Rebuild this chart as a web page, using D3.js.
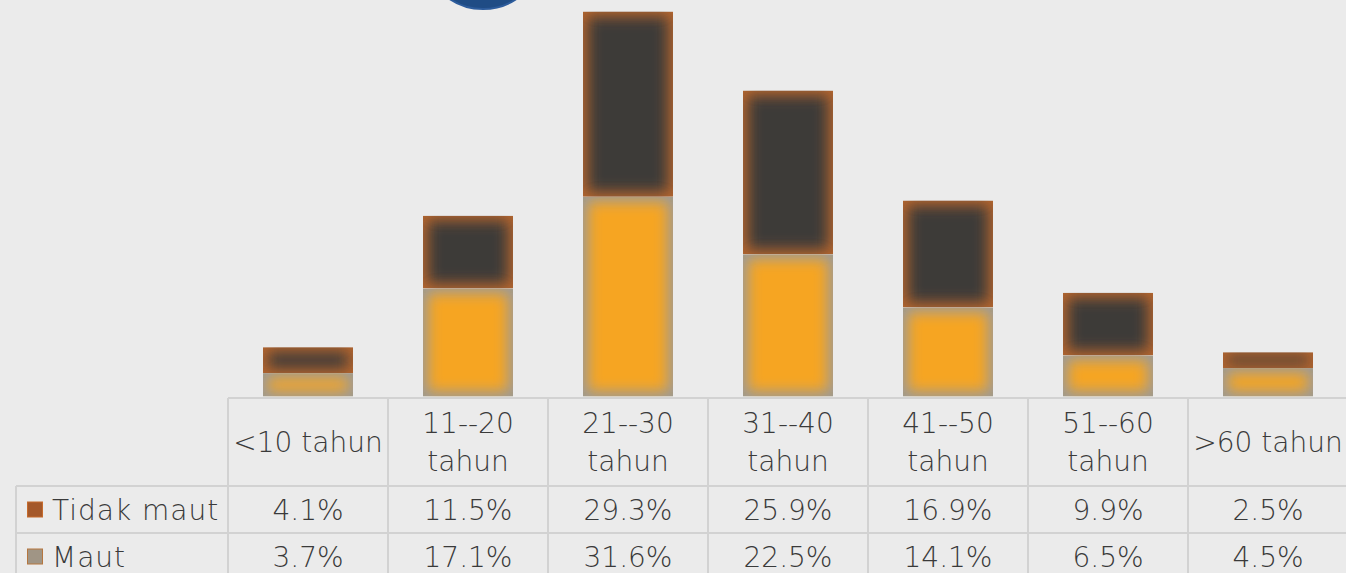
<!DOCTYPE html>
<html lang="id">
<head>
    <meta charset="UTF-8">
    <script src="https://cdn.jsdelivr.net/npm/d3@7"></script>
    <title>Korban menurut umur</title>
    <style>
        body {
            margin: 0;
            background: #ebebeb;
            overflow: hidden;
        }
        text {
            font-family: 'DejaVu Sans', sans-serif;
            font-weight: 200;
            fill: #3a3a3a;
        }
    </style>
</head>
<body>
<div class="fig"></div>

<script>
    // Data
    const categories = ["<10 tahun", "11--20 tahun", "21--30 tahun", "31--40 tahun", "41--50 tahun", "51--60 tahun", ">60 tahun"];
    const headerLines = [["<10 tahun"], ["11--20", "tahun"], ["21--30", "tahun"], ["31--40", "tahun"], ["41--50", "tahun"], ["51--60", "tahun"], [">60 tahun"]];
    const seriesNames = ["Tidak maut", "Maut"];
    const tidakMaut = [4.1, 11.5, 29.3, 25.9, 16.9, 9.9, 2.5];
    const maut = [3.7, 17.1, 31.6, 22.5, 14.1, 6.5, 4.5];

    const width = 1346, height = 573;
    const baseY = 396.5;

    const svg = d3.select(".fig").append("svg")
        .attr("width", width)
        .attr("height", height);

    const defs = svg.append("defs");
    defs.append("filter")
        .attr("id", "soft")
        .attr("x", "-50%").attr("y", "-50%")
        .attr("width", "200%").attr("height", "200%")
        .append("feGaussianBlur")
        .attr("stdDeviation", 7);

    const x = d3.scaleBand()
        .domain(categories)
        .range([228, 228 + 160 * categories.length])
        .paddingInner(0.4375)
        .paddingOuter(0.4375 / 2);

    const y = d3.scaleLinear()
        .domain([0, 70])
        .range([baseY, baseY - 70 * 6.32]);

    // blue circle peeking at the top
    svg.append("circle")
        .attr("cx", 483).attr("cy", -51).attr("r", 60)
        .attr("fill", "#1f4c85")
        .attr("stroke", "#2d5c9c")
        .attr("stroke-width", 2);

    // stacked segments: maut at the bottom, tidak maut on top
    const segments = [];
    categories.forEach((c, i) => {
        segments.push({ cat: c, y0: 0, y1: maut[i], edge: "#9d9a95", core: "#f6a523" });
        segments.push({ cat: c, y0: maut[i], y1: maut[i] + tidakMaut[i], edge: "#b4652e", core: "#3c3a37" });
    });

    segments.forEach((s, k) => {
        const x0 = x(s.cat), w = x.bandwidth();
        const top = y(s.y1), h = y(s.y0) - y(s.y1);
        defs.append("clipPath").attr("id", "seg" + k)
            .append("rect").attr("x", x0).attr("y", top).attr("width", w).attr("height", h);
        const g = svg.append("g").attr("clip-path", `url(#seg${k})`);
        g.append("rect")
            .attr("x", x0).attr("y", top).attr("width", w).attr("height", h)
            .attr("fill", s.edge);
        const inset = Math.min(5, h / 4);
        g.append("rect")
            .attr("x", x0 + inset).attr("y", top + inset)
            .attr("width", w - 2 * inset).attr("height", h - 2 * inset)
            .attr("fill", s.core)
            .attr("filter", "url(#soft)");
    });

    // data table
    const step = x.step();
    const colLeft = c => x(c) - (step - x.bandwidth()) / 2;
    const rowTop = [398, 486, 533];
    const rowH = [88, 47, 47];
    const grid = svg.append("g").attr("stroke", "#d2d2d2").attr("stroke-width", 2);

    grid.append("line").attr("x1", 228).attr("x2", width).attr("y1", 398).attr("y2", 398);
    grid.append("line").attr("x1", 16).attr("x2", width).attr("y1", 486).attr("y2", 486);
    grid.append("line").attr("x1", 16).attr("x2", width).attr("y1", 533).attr("y2", 533);
    grid.append("line").attr("x1", 16).attr("x2", 16).attr("y1", 486).attr("y2", height);
    categories.forEach(c => {
        grid.append("line")
            .attr("x1", colLeft(c)).attr("x2", colLeft(c))
            .attr("y1", 398).attr("y2", height);
    });

    const fontSize = 28;

    // header labels
    categories.forEach((c, i) => {
        const lines = headerLines[i];
        const cx = colLeft(c) + step / 2;
        const mid = rowTop[0] + rowH[0] / 2;
        lines.forEach((ln, j) => {
            svg.append("text")
                .attr("x", cx)
                .attr("y", mid + (j - (lines.length - 1) / 2) * 38)
                .attr("dy", "0.36em")
                .attr("text-anchor", "middle")
                .attr("font-size", fontSize)
                .text(ln);
        });
    });

    // rows
    const rows = [
        { name: seriesNames[0], values: tidakMaut, fill: "#a4582a", stroke: "#c66b2c" },
        { name: seriesNames[1], values: maut, fill: "#a09585", stroke: "#b5763f" }
    ];
    rows.forEach((r, k) => {
        const mid = rowTop[k + 1] + 23.5;
        svg.append("rect")
            .attr("x", 27.5).attr("y", mid - 7.5)
            .attr("width", 15).attr("height", 15)
            .attr("fill", r.fill)
            .attr("stroke", r.stroke);
        svg.append("text")
            .attr("x", 52).attr("y", mid)
            .attr("dy", "0.36em")
            .attr("font-size", fontSize)
            .attr("letter-spacing", 1)
            .text(r.name);
        categories.forEach((c, i) => {
            svg.append("text")
                .attr("x", colLeft(c) + step / 2)
                .attr("y", mid)
                .attr("dy", "0.36em")
                .attr("text-anchor", "middle")
                .attr("font-size", fontSize)
                .text(d3.format(".1f")(r.values[i]) + "%");
        });
    });
</script>
</body>
</html>
